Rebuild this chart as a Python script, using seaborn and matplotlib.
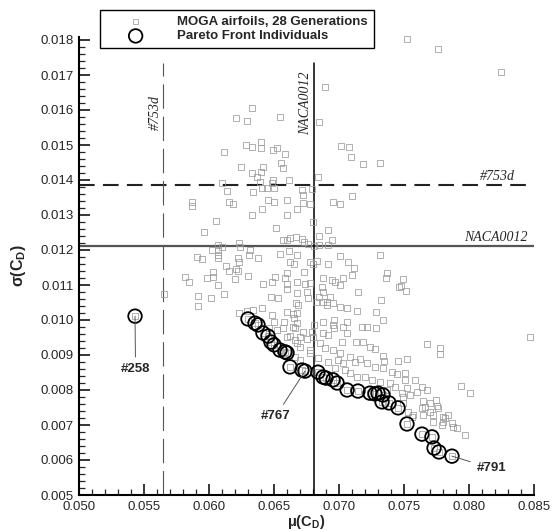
import matplotlib
matplotlib.use('Agg')
import matplotlib.pyplot as plt
from matplotlib.ticker import MultipleLocator, FormatStrFormatter
import seaborn as sns

# MOGA population (mean and std of drag coefficient)
moga_mu = [
    0.07523, 0.07762, 0.08246, 0.06892, 0.06331, 0.06208, 0.06292, 0.06546, 0.06846, 0.07015,
    0.06115, 0.06285, 0.06331, 0.06400, 0.06400, 0.06492, 0.06523, 0.06585, 0.06246, 0.06331,
    0.06415, 0.06400, 0.06554, 0.06569, 0.06369, 0.06492, 0.06615, 0.06838, 0.06100, 0.06392,
    0.07077, 0.07092, 0.07185, 0.07315, 0.06138, 0.06338, 0.06446, 0.06485, 0.06715, 0.06792,
    0.06723, 0.07100, 0.06408, 0.06500, 0.05869, 0.05869, 0.06154, 0.06185, 0.06454, 0.06500,
    0.06600, 0.06723, 0.06777, 0.06954, 0.07008, 0.06408, 0.06677, 0.06331, 0.06600, 0.06054,
    0.06515, 0.05962, 0.06800, 0.06915, 0.06846, 0.06946, 0.06569, 0.06600, 0.06623, 0.06669,
    0.06715, 0.06731, 0.06762, 0.06808, 0.06846, 0.06915, 0.06069, 0.06100, 0.06023, 0.06069,
    0.06231, 0.06238, 0.06315, 0.06308, 0.06069, 0.06069, 0.05908, 0.05946, 0.06223, 0.06231,
    0.06377, 0.06546, 0.06615, 0.06677, 0.06623, 0.06654, 0.06777, 0.06800, 0.06831, 0.06915,
    0.07008, 0.06131, 0.06208, 0.06223, 0.06154, 0.06031, 0.05985, 0.05815, 0.05846, 0.06031,
    0.06200, 0.06300, 0.06069, 0.06508, 0.06485, 0.06415, 0.06600, 0.06585, 0.06600, 0.06600,
    0.06731, 0.06677, 0.06738, 0.06754, 0.06877, 0.06946, 0.06969, 0.07008, 0.07031, 0.06777,
    0.06869, 0.06877, 0.06931, 0.05654, 0.06015, 0.05915, 0.06115, 0.06677, 0.06477, 0.06531,
    0.06762, 0.06846, 0.05915, 0.06669, 0.06685, 0.06877, 0.06908, 0.06823, 0.07008, 0.06954,
    0.06231, 0.06292, 0.06338, 0.06408, 0.06485, 0.06600, 0.06646, 0.06677, 0.06654, 0.06577,
    0.06500, 0.06462, 0.06662, 0.06808, 0.06877, 0.06962, 0.06954, 0.07031, 0.07315, 0.07069,
    0.07115, 0.07100, 0.07369, 0.07362, 0.07492, 0.07477, 0.07515, 0.07146, 0.07323, 0.07062,
    0.07138, 0.07285, 0.07062, 0.07177, 0.07215, 0.07285, 0.07338, 0.07462, 0.08469, 0.07677,
    0.07777, 0.07777, 0.07938, 0.08008, 0.07969, 0.07877, 0.07908, 0.07800, 0.07815, 0.07646,
    0.07569, 0.07454, 0.07523, 0.07338, 0.07346, 0.07238, 0.07277, 0.07185, 0.07131, 0.07062,
    0.06908, 0.06677, 0.06962, 0.06877, 0.06915, 0.07023, 0.06792, 0.06800, 0.06723, 0.06754,
    0.06623, 0.06662, 0.06700, 0.06777, 0.06854, 0.06892, 0.06954, 0.07008, 0.07085, 0.06992,
    0.07031, 0.07123, 0.07162, 0.07215, 0.07277, 0.07338, 0.07408, 0.07446, 0.07508, 0.07585,
    0.07523, 0.07638, 0.07677, 0.07492, 0.07546, 0.07492, 0.07646, 0.07700, 0.07754, 0.07762,
    0.07531, 0.07638, 0.07700, 0.07723, 0.07085, 0.07138, 0.07200, 0.07254, 0.07315, 0.07392,
    0.07431, 0.07369, 0.07485, 0.07600, 0.07838, 0.07800, 0.07869, 0.07508, 0.07746, 0.07662,
    0.07562, 0.07792, 0.07723, 0.06523, 0.06646, 0.06700, 0.06677, 0.06662, 0.06700, 0.06777,
    0.06600, 0.06569, 0.06838, 0.06915, 0.06969, 0.07046,
]
moga_sigma = [
    0.01803, 0.01774, 0.01709, 0.01666, 0.01606, 0.01577, 0.01569, 0.01580, 0.01566, 0.01497,
    0.01480, 0.01500, 0.01494, 0.01509, 0.01491, 0.01486, 0.01491, 0.01474, 0.01437, 0.01420,
    0.01437, 0.01423, 0.01449, 0.01434, 0.01409, 0.01400, 0.01400, 0.01409, 0.01391, 0.01394,
    0.01494, 0.01466, 0.01446, 0.01449, 0.01369, 0.01366, 0.01377, 0.01391, 0.01371, 0.01374,
    0.01357, 0.01354, 0.01377, 0.01377, 0.01337, 0.01326, 0.01337, 0.01331, 0.01343, 0.01337,
    0.01343, 0.01334, 0.01331, 0.01337, 0.01331, 0.01317, 0.01317, 0.01300, 0.01300, 0.01283,
    0.01263, 0.01251, 0.01280, 0.01257, 0.01240, 0.01229, 0.01229, 0.01229, 0.01234, 0.01237,
    0.01231, 0.01223, 0.01217, 0.01211, 0.01214, 0.01214, 0.01214, 0.01209, 0.01200, 0.01200,
    0.01220, 0.01209, 0.01200, 0.01186, 0.01186, 0.01177, 0.01180, 0.01174, 0.01177, 0.01166,
    0.01177, 0.01189, 0.01197, 0.01186, 0.01166, 0.01160, 0.01166, 0.01160, 0.01169, 0.01160,
    0.01183, 0.01154, 0.01146, 0.01140, 0.01140, 0.01137, 0.01120, 0.01123, 0.01109, 0.01123,
    0.01117, 0.01126, 0.01100, 0.01123, 0.01109, 0.01103, 0.01134, 0.01120, 0.01103, 0.01089,
    0.01137, 0.01109, 0.01103, 0.01080, 0.01120, 0.01114, 0.01109, 0.01100, 0.01120, 0.01106,
    0.01094, 0.01080, 0.01066, 0.01074, 0.01063, 0.01069, 0.01074, 0.01077, 0.01066, 0.01063,
    0.01063, 0.01066, 0.01040, 0.01049, 0.01043, 0.01051, 0.01051, 0.01051, 0.01037, 0.01049,
    0.01020, 0.01026, 0.01029, 0.01034, 0.01014, 0.01023, 0.01017, 0.01020, 0.01006, 0.00994,
    0.00994, 0.00977, 0.00977, 0.00986, 0.00994, 0.01000, 0.00986, 0.00980, 0.01186, 0.01166,
    0.01149, 0.01129, 0.01134, 0.01120, 0.01117, 0.01097, 0.01083, 0.01080, 0.01057, 0.01034,
    0.01026, 0.01023, 0.00994, 0.00980, 0.00980, 0.00977, 0.01000, 0.01094, 0.00951, 0.00931,
    0.00920, 0.00903, 0.00811, 0.00791, 0.00671, 0.00694, 0.00691, 0.00723, 0.00720, 0.00729,
    0.00729, 0.00883, 0.00889, 0.00897, 0.00883, 0.00923, 0.00917, 0.00937, 0.00937, 0.00963,
    0.01043, 0.00991, 0.00977, 0.00963, 0.00957, 0.00937, 0.00966, 0.00951, 0.00966, 0.00946,
    0.00954, 0.00943, 0.00923, 0.00914, 0.00934, 0.00920, 0.00914, 0.00906, 0.00894, 0.00886,
    0.00877, 0.00880, 0.00889, 0.00877, 0.00866, 0.00863, 0.00851, 0.00846, 0.00829, 0.00829,
    0.00806, 0.00809, 0.00800, 0.00780, 0.00786, 0.00763, 0.00769, 0.00763, 0.00754, 0.00749,
    0.00737, 0.00749, 0.00737, 0.00729, 0.00849, 0.00837, 0.00837, 0.00829, 0.00823, 0.00820,
    0.00809, 0.00800, 0.00791, 0.00794, 0.00729, 0.00709, 0.00706, 0.00849, 0.00771, 0.00751,
    0.00723, 0.00700, 0.00709, 0.00971, 0.00980, 0.00951, 0.00934, 0.00894, 0.00886, 0.00906,
    0.00951, 0.00977, 0.00891, 0.00880, 0.00863, 0.00857,
]

# Pareto front individuals (last one is #258)
pareto_mu = [
    0.06300, 0.06354, 0.06377, 0.06415, 0.06454, 0.06477, 0.06500, 0.06546, 0.06585, 0.06600,
    0.06623, 0.06715, 0.06738, 0.06838, 0.06877, 0.06900, 0.06954, 0.06985, 0.07062, 0.07146,
    0.07238, 0.07277, 0.07300, 0.07338, 0.07331, 0.07385, 0.07454, 0.07523, 0.07638, 0.07715,
    0.07731, 0.07769, 0.07869, 0.05431,
]
pareto_sigma = [
    0.01003, 0.00991, 0.00986, 0.00963, 0.00954, 0.00937, 0.00929, 0.00914, 0.00909, 0.00906,
    0.00866, 0.00857, 0.00854, 0.00851, 0.00837, 0.00834, 0.00829, 0.00820, 0.00800, 0.00797,
    0.00791, 0.00789, 0.00791, 0.00786, 0.00766, 0.00763, 0.00749, 0.00703, 0.00674, 0.00666,
    0.00634, 0.00623, 0.00611, 0.01011,
]

# reference airfoils
naca_mu, naca_sigma = 0.0681, 0.01212
d753_mu, d753_sigma = 0.0565, 0.01386

# labelled individuals
annot_labels = ['#258', '#767', '#791']
annot_index = [33, 12, 32]
annot_text_mu = [0.05435, 0.06515, 0.0817]
annot_text_sigma = [0.0086, 0.00726, 0.00577]

sns.set_style('ticks')
plt.rcParams['font.family'] = ['Liberation Sans', 'DejaVu Sans']
plt.rcParams['mathtext.fontset'] = 'custom'
plt.rcParams['mathtext.rm'] = 'Liberation Sans'
plt.rcParams['mathtext.bf'] = 'Liberation Sans:bold'
plt.rcParams['mathtext.it'] = 'Liberation Sans:italic'

fig = plt.figure(figsize=(5.53, 5.31), dpi=100)
ax = fig.add_axes([79 / 553, 36 / 531, 455 / 553, 458.5 / 531])

# all individuals (Pareto ones are part of the population too)
sns.scatterplot(x=moga_mu + pareto_mu, y=moga_sigma + pareto_sigma, marker='s', s=16,
                facecolor='none', edgecolor='#9a9a9a', linewidth=0.6, alpha=0.9,
                ax=ax, label='MOGA airfoils, 28 Generations', zorder=2)
sns.scatterplot(x=pareto_mu, y=pareto_sigma, marker='o', s=95,
                facecolor='none', edgecolor='black', linewidth=1.3,
                ax=ax, label='Pareto Front Individuals', zorder=3)

# reference lines
ax.axhline(d753_sigma, color='#222222', lw=1.5, ls=(0, (7.5, 4.0)), zorder=1)
ax.axhline(naca_sigma, color='#555555', lw=1.6, zorder=1)
ax.axvline(d753_mu, ymax=0.942, color='#555555', lw=0.8, ls=(0, (22, 7)), zorder=1)
ax.axvline(naca_mu, ymax=0.942, color='black', lw=1.1, zorder=1)

serif = dict(family=['Liberation Serif', 'DejaVu Serif'], style='italic', fontsize=10)
ax.text(0.08354, d753_sigma + 0.00005, '#753d', ha='right', va='bottom', **serif)
ax.text(0.08454, naca_sigma + 0.00005, 'NACA0012', ha='right', va='bottom', **serif)
ax.text(d753_mu - 0.00015, 0.01594, '#753d', rotation=90, ha='right', va='center', **serif)
ax.text(naca_mu - 0.00015, 0.01620, 'NACA0012', rotation=90, ha='right', va='center', **serif)

for lab, i, tx, ty in zip(annot_labels, annot_index, annot_text_mu, annot_text_sigma):
    ax.annotate(lab, xy=(pareto_mu[i], pareto_sigma[i]), xytext=(tx, ty),
                ha='center', va='center', fontsize=9.5, fontweight='bold',
                arrowprops=dict(arrowstyle='-', color='#555555', lw=0.7,
                                shrinkA=2, shrinkB=0))

ax.set_xlim(0.050, 0.085)
ax.set_ylim(0.005, 0.0181)
ax.xaxis.set_major_locator(MultipleLocator(0.005))
ax.xaxis.set_minor_locator(MultipleLocator(0.001))
ax.yaxis.set_major_locator(MultipleLocator(0.001))
ax.yaxis.set_minor_locator(MultipleLocator(0.0002))
ax.xaxis.set_major_formatter(FormatStrFormatter('%.3f'))
ax.yaxis.set_major_formatter(FormatStrFormatter('%.3f'))
ax.tick_params(which='major', direction='in', length=8, width=1.3, labelsize=9.5, pad=4)
ax.tick_params(which='minor', direction='in', length=4, width=0.9)

sns.despine(ax=ax)
for sp in ['left', 'bottom']:
    ax.spines[sp].set_linewidth(1.5)
    ax.spines[sp].set_color('black')

ax.set_xlabel(r'$\mathbf{\mu(C_D)}$', fontsize=10.5, labelpad=0)
ax.set_ylabel(r'$\mathbf{\sigma(C_D)}$', fontsize=11.5, labelpad=9)

leg = ax.legend(loc='upper left', bbox_to_anchor=(100 / 553, 1 - 10 / 531),
                bbox_transform=fig.transFigure, frameon=True, fancybox=False,
                edgecolor='black', framealpha=1, prop={'weight': 'bold', 'size': 9.5},
                borderpad=0.45, handlelength=4.5, handletextpad=0.9,
                labelspacing=0.15, borderaxespad=0)
leg.get_frame().set_linewidth(1.0)

fig.savefig('out.png', dpi=100)
